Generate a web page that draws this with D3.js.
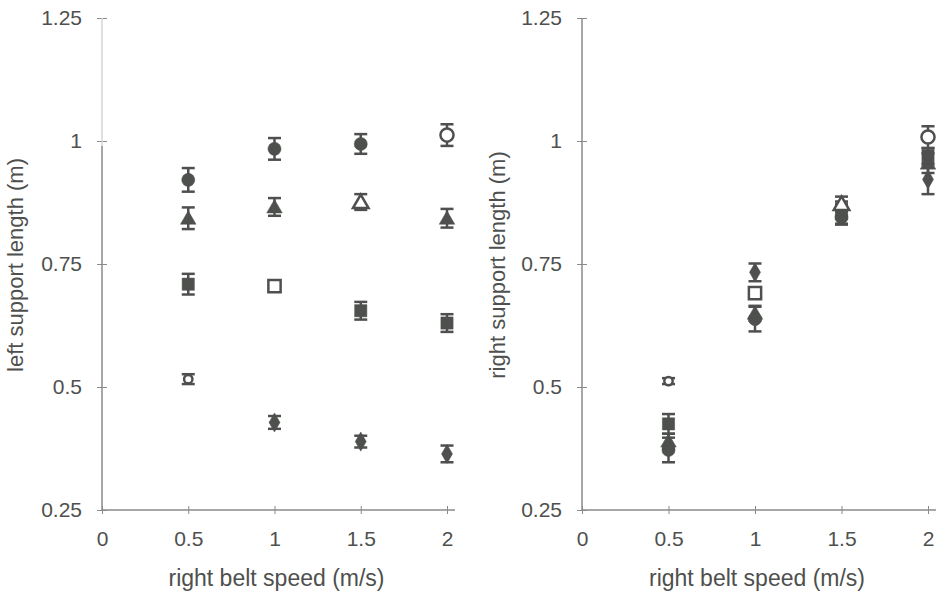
<!DOCTYPE html>
<html>
<head>
<meta charset="utf-8">
<script src="https://cdn.jsdelivr.net/npm/d3@7"></script>
<style>
  body { margin: 0; background: #fff; }
  svg { display: block; font-family: "Liberation Sans", Arial, sans-serif; }
</style>
</head>
<body>
<svg id="chart" width="937" height="591"></svg>
<script>
// right belt speed (m/s)
const speeds = [0.5, 1, 1.5, 2];
const xTicks = [0, 0.5, 1, 1.5, 2];
const yTicks = [0.25, 0.5, 0.75, 1, 1.25];

// series = left belt speed; open marker where belts are tied
const seriesNames = ["L0.5", "L1.0", "L1.5", "L2.0"];
const seriesShapes = ["diamond", "square", "triangle", "circle"];
const openAt = [0.5, 1, 1.5, 2];

// left support length (m)
const leftVals = [
  [0.516, 0.428, 0.389, 0.364],
  [0.709, 0.705, 0.655, 0.630],
  [0.843, 0.866, 0.876, 0.843],
  [0.921, 0.984, 0.994, 1.012]
];
const leftErr = [
  [0.010, 0.013, 0.012, 0.017],
  [0.021, 0.010, 0.018, 0.018],
  [0.022, 0.018, 0.016, 0.019],
  [0.024, 0.022, 0.020, 0.022]
];

// right support length (m)
const rightVals = [
  [0.512, 0.733, 0.862, 0.922],
  [0.425, 0.691, 0.852, 0.970],
  [0.390, 0.650, 0.872, 0.955],
  [0.372, 0.638, 0.845, 1.008]
];
const rightErr = [
  [0.006, 0.018, 0.015, 0.030],
  [0.020, 0.010, 0.020, 0.015],
  [0.015, 0.015, 0.015, 0.020],
  [0.025, 0.025, 0.015, 0.022]
];

const ink = "#4e504e";
const axisCol = "#8a8a8a";
const svg = d3.select("#chart");

const symbols = {
  circle: d3.symbol(d3.symbolCircle, 135),
  square: d3.symbol(d3.symbolSquare, 150),
  triangle: d3.symbol(d3.symbolTriangle, 105),
  diamond: d3.symbol(d3.symbolDiamond, 105),
  smallCircle: d3.symbol(d3.symbolCircle, 55)
};

function shapeOf(d) {
  const s = seriesShapes[d.s];
  return (s === "diamond" && d.open) ? "smallCircle" : s;
}

function panel(opts) {
  const x = d3.scaleLinear().domain([0, 2]).range(opts.xRange);
  const y = d3.scaleLinear().domain([0.25, 1.25]).range([510, 18]);
  const g = svg.append("g");

  // y axis
  const yAxis = g.append("g")
    .attr("transform", `translate(${x(0)},0)`)
    .call(d3.axisLeft(y).tickValues(yTicks).tickSize(5).tickPadding(15)
      .tickFormat(d => String(d)));
  yAxis.select(".domain").remove();
  yAxis.selectAll(".tick line").attr("x1", -5).attr("x2", 5).attr("stroke", axisCol);
  yAxis.selectAll(".tick text").attr("font-size", 21).attr("fill", ink)
    .attr("font-family", "Liberation Sans, Arial, sans-serif");

  if (opts.fadedTop) {
    g.append("line").attr("x1", x(0)).attr("x2", x(0))
      .attr("y1", y(1.25)).attr("y2", y(0.99))
      .attr("stroke", "#d4d4d4").attr("stroke-width", 1.5);
    g.append("line").attr("x1", x(0)).attr("x2", x(0))
      .attr("y1", y(0.99)).attr("y2", y(0.25))
      .attr("stroke", axisCol).attr("stroke-width", 1.5);
  } else {
    g.append("line").attr("x1", x(0)).attr("x2", x(0))
      .attr("y1", y(1.25)).attr("y2", y(0.25))
      .attr("stroke", axisCol).attr("stroke-width", 1.5);
  }

  // x axis
  const xAxis = g.append("g")
    .attr("transform", `translate(0,${y(0.25)})`)
    .call(d3.axisBottom(x).tickValues(xTicks).tickSize(4).tickPadding(17)
      .tickFormat(d => String(d)));
  xAxis.select(".domain").remove();
  xAxis.selectAll(".tick line").attr("y1", -4).attr("y2", 4).attr("stroke", axisCol);
  xAxis.selectAll(".tick text").attr("font-size", 21).attr("fill", ink)
    .attr("font-family", "Liberation Sans, Arial, sans-serif");
  g.append("line").attr("x1", x(0)).attr("x2", x(2) + 8)
    .attr("y1", y(0.25)).attr("y2", y(0.25))
    .attr("stroke", axisCol).attr("stroke-width", 1.5);

  // titles
  g.append("text")
    .attr("x", (x(0) + x(2)) / 2 + 2).attr("y", 586)
    .attr("text-anchor", "middle").attr("font-size", 23).attr("fill", ink)
    .text("right belt speed (m/s)");
  g.append("text")
    .attr("transform", `translate(${opts.titleX},265) rotate(-90)`)
    .attr("text-anchor", "middle").attr("font-size", 22).attr("fill", ink)
    .text(opts.yTitle);

  // points
  const pts = [];
  opts.vals.forEach((row, si) => {
    row.forEach((v, i) => {
      pts.push({ s: si, sp: speeds[i], v: v, e: opts.errs[si][i],
        open: speeds[i] === openAt[si] });
    });
  });

  const eb = g.append("g").selectAll("g").data(pts).join("g")
    .attr("stroke", ink).attr("stroke-width", 2.5);
  eb.append("line")
    .attr("x1", d => x(d.sp)).attr("x2", d => x(d.sp))
    .attr("y1", d => y(d.v + d.e)).attr("y2", d => y(d.v - d.e));
  eb.append("line")
    .attr("x1", d => x(d.sp) - 6.5).attr("x2", d => x(d.sp) + 6.5)
    .attr("y1", d => y(d.v + d.e)).attr("y2", d => y(d.v + d.e));
  eb.append("line")
    .attr("x1", d => x(d.sp) - 6.5).attr("x2", d => x(d.sp) + 6.5)
    .attr("y1", d => y(d.v - d.e)).attr("y2", d => y(d.v - d.e));

  g.append("g").selectAll("path").data(pts).join("path")
    .attr("transform", d => `translate(${x(d.sp)},${y(d.v) + (seriesShapes[d.s] === "triangle" ? 1.5 : 0)})`)
    .attr("d", d => symbols[shapeOf(d)]())
    .attr("fill", d => d.open ? "#fff" : ink)
    .attr("stroke", ink)
    .attr("stroke-width", d => d.open ? 2.5 : 0.5);
}

panel({ xRange: [102, 447], vals: leftVals, errs: leftErr,
  yTitle: "left support length (m)", titleX: 23, fadedTop: true });
panel({ xRange: [582, 928], vals: rightVals, errs: rightErr,
  yTitle: "right support length (m)", titleX: 505, fadedTop: false });
</script>
</body>
</html>
